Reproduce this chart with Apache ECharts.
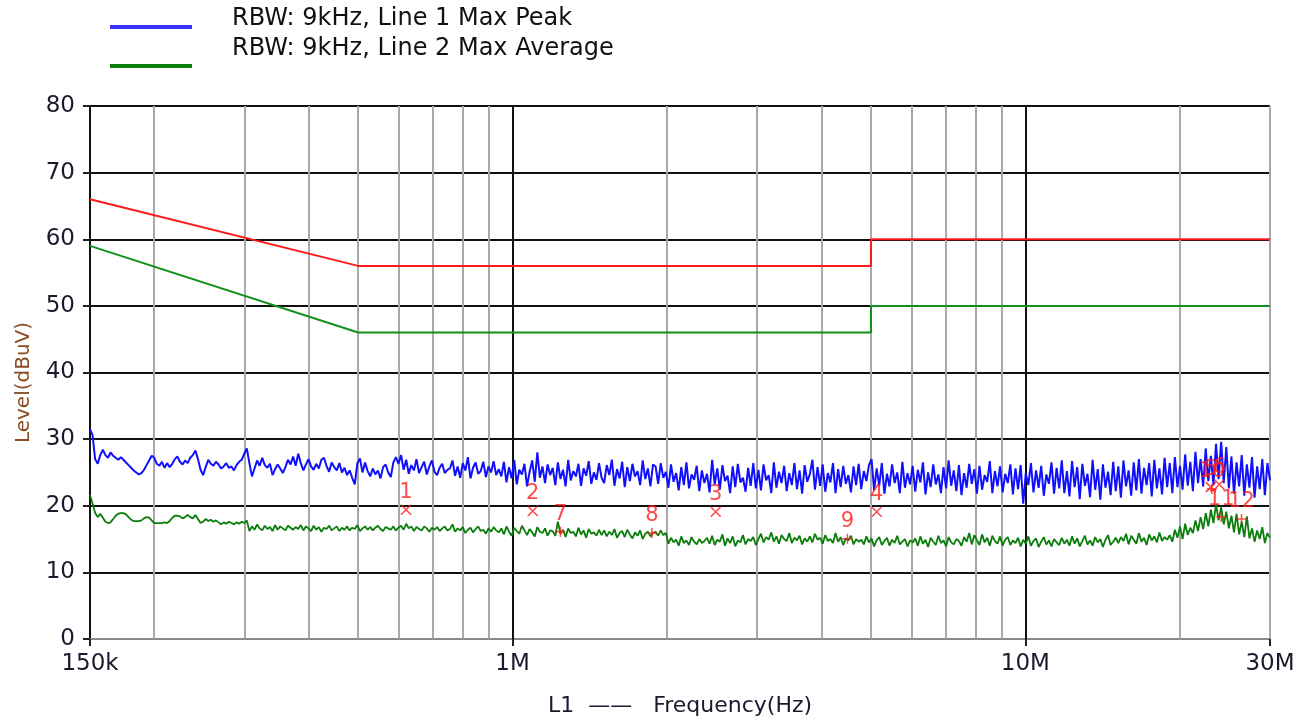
<!DOCTYPE html>
<html>
<head>
<meta charset="utf-8">
<title>L1 conducted emission</title>
<script src="https://cdn.jsdelivr.net/npm/echarts@6/dist/echarts.min.js"></script>
<style>
  html, body { margin: 0; padding: 0; background: #fff; }
  #chart { width: 1305px; height: 722px; }
</style>
</head>
<body>
<div id="chart"></div>
<script>
// sweep: 150 kHz .. 30 MHz (dBuV)
const sweepStart = 150000;
const sweepStop = 30000000;

const peakTrace = [
  31.5,30.6,27.0,26.3,27.6,28.4,27.6,27.2,28.0,27.5,27.2,26.9,27.3,26.9,26.5,26.1,25.7,25.3,25.0,24.7,
  24.9,25.4,26.1,26.8,27.5,27.2,26.3,26.0,26.6,25.7,26.4,25.8,26.3,27.0,27.4,26.6,26.2,26.8,26.4,27.2,
  27.6,28.3,27.0,25.4,24.6,25.8,26.9,26.3,26.0,26.6,26.2,25.6,25.9,26.4,25.7,25.9,25.3,26.1,26.6,26.9,
  27.8,28.6,26.4,24.4,25.6,26.8,26.0,27.2,26.1,25.7,26.3,24.6,25.5,26.2,25.6,24.9,25.8,26.9,26.2,27.4,
  26.0,27.8,26.4,25.3,26.2,27.0,25.9,25.4,26.3,25.6,26.9,27.2,26.0,25.1,26.5,25.8,25.3,26.4,25.0,25.7,
  24.6,25.3,24.2,23.2,26.4,27.1,25.0,26.5,25.2,24.4,25.6,24.7,25.3,24.1,25.8,26.2,25.0,24.3,26.5,27.3,
  26.3,27.6,25.4,26.9,24.8,26.1,25.3,27.0,24.9,25.8,26.6,24.7,25.9,26.8,25.1,24.6,25.7,26.3,24.9,25.4,
  25.6,26.8,24.5,25.9,24.2,26.4,25.3,27.3,24.1,25.7,26.5,24.8,25.2,26.6,24.3,25.9,25.0,26.7,24.6,25.5,
  24.4,26.6,23.5,25.8,24.1,26.9,23.2,25.4,24.7,26.3,22.9,25.1,26.8,23.6,28.0,24.2,25.9,23.4,26.2,24.6,
  25.7,23.1,26.5,24.0,25.4,22.9,26.9,23.8,25.2,24.4,26.3,23.0,25.6,24.5,26.7,23.3,25.0,23.9,26.4,24.2,
  23.4,26.1,24.6,26.9,23.0,25.5,24.1,26.6,22.8,25.8,23.7,26.3,24.4,25.2,23.1,26.8,24.0,25.6,22.9,26.2,
  25.9,23.3,26.4,24.2,25.1,22.7,26.2,23.6,24.9,22.3,25.8,23.1,26.5,22.6,24.7,23.9,26.0,22.2,25.3,23.4,
  24.8,22.0,26.9,23.2,25.6,22.4,26.1,23.7,24.5,21.9,25.9,22.8,26.3,23.5,24.2,22.1,25.7,23.0,26.4,22.6,
  25.4,22.3,26.2,23.8,24.6,21.9,26.5,22.7,25.1,23.4,26.0,22.2,24.9,23.1,26.4,22.5,25.3,21.8,26.1,23.6,
  24.7,26.9,22.4,25.8,23.0,26.2,22.1,24.9,23.5,26.4,21.9,25.5,22.8,26.0,23.3,24.6,22.0,25.9,23.1,26.3,
  22.5,25.2,23.7,26.1,27.0,22.3,25.6,23.0,26.4,21.8,24.8,22.9,26.2,23.4,25.0,21.9,26.6,22.7,24.9,23.2,
  26.0,22.1,25.4,23.5,26.5,21.7,25.0,22.8,26.2,23.2,24.7,21.9,25.8,22.6,26.8,23.0,25.3,22.2,26.1,21.6,
  24.9,22.7,26.3,23.3,25.5,21.8,26.0,22.4,24.6,23.6,26.7,21.9,25.2,22.9,25.9,22.0,24.8,23.4,26.2,21.7,
  25.6,22.5,26.1,20.3,24.9,23.1,26.4,22.0,25.3,22.7,26.0,21.5,24.7,23.3,26.5,21.8,25.7,22.6,26.8,21.9,
  25.2,21.4,26.7,22.8,25.8,21.0,26.3,23.0,24.8,21.3,26.9,22.4,25.5,20.9,26.2,22.7,25.1,21.6,26.6,22.2,
  25.9,21.2,26.8,22.9,25.3,21.5,26.5,22.3,27.0,21.8,25.7,23.1,26.4,21.4,26.9,22.6,25.6,21.7,27.2,22.8,
  26.4,21.9,27.3,22.8,26.0,22.4,27.7,23.0,26.6,22.2,28.1,23.4,27.0,22.9,28.6,23.7,27.5,23.1,29.3,24.0,
  29.6,23.4,28.8,22.6,27.4,21.8,26.5,22.9,27.6,21.5,26.2,22.7,27.3,21.2,25.9,22.5,27.0,21.6,26.4,23.8
];

const avgTrace = [
  21.6,20.3,18.9,18.3,18.8,18.2,17.6,17.4,17.5,18.0,18.5,18.8,18.9,18.9,18.7,18.3,17.9,17.7,17.7,17.7,
  17.8,18.1,18.3,18.2,17.8,17.4,17.4,17.4,17.4,17.5,17.4,17.7,18.2,18.5,18.5,18.4,18.1,18.3,18.6,18.3,
  18.1,18.6,18.0,17.4,17.6,18.0,17.7,17.9,17.6,17.8,17.5,17.2,17.5,17.3,17.6,17.4,17.2,17.5,17.3,17.6,
  17.4,17.8,16.2,16.9,16.4,17.2,16.6,16.3,17.0,16.5,16.8,16.2,17.1,16.4,16.9,16.6,16.3,17.0,16.7,16.4,
  16.8,16.5,17.1,16.3,16.9,16.6,16.2,17.0,16.4,16.8,16.1,16.7,16.5,17.0,16.3,16.6,16.9,16.2,16.7,16.4,
  16.9,16.3,16.7,16.5,17.1,16.2,16.6,16.9,16.4,16.8,16.3,16.7,17.0,16.5,16.2,16.8,16.6,16.4,16.9,16.3,
  16.7,17.0,16.4,17.3,16.6,16.9,16.2,16.8,16.5,16.3,16.9,16.6,16.1,16.7,16.4,16.8,16.2,16.6,16.9,16.3,
  16.5,17.2,16.1,16.6,16.3,16.8,15.9,16.4,16.7,16.0,16.5,16.9,16.2,16.4,15.8,16.6,16.1,16.8,16.3,16.0,
  16.6,15.7,16.9,16.1,15.5,16.7,16.2,15.8,17.0,16.3,15.6,16.5,16.0,15.4,16.8,16.1,15.9,16.6,15.5,16.3,
  16.2,15.5,17.6,15.8,16.4,15.3,16.6,15.9,16.1,15.4,16.7,15.7,16.3,15.2,16.5,15.8,16.0,15.5,16.4,15.6,
  16.3,15.4,16.1,15.6,16.5,15.2,15.9,16.2,15.3,16.4,15.7,15.1,16.0,15.5,16.3,15.0,15.8,16.1,15.4,15.9,
  16.1,15.5,16.3,15.6,15.9,14.3,15.2,14.5,14.9,14.0,15.4,14.4,14.8,14.1,15.3,14.6,14.2,15.0,14.4,14.7,
  15.2,14.3,15.5,14.1,14.9,14.6,15.7,14.0,15.1,14.4,15.4,13.9,14.8,14.5,15.6,14.2,15.0,14.7,15.3,14.1,
  15.0,15.8,14.5,15.3,14.9,16.0,14.6,15.4,14.3,15.6,15.0,14.7,15.9,14.4,15.2,14.8,15.5,14.2,15.1,14.6,
  15.4,14.5,15.8,14.9,15.2,14.3,15.6,14.7,15.0,14.4,15.9,14.6,15.3,14.1,15.1,14.8,15.5,14.2,15.0,14.6,
  14.9,14.2,15.4,14.5,15.1,13.9,14.8,15.3,14.1,14.7,15.2,14.0,14.9,14.4,15.5,14.2,14.6,15.0,13.9,14.8,
  14.5,15.1,14.0,15.4,14.3,14.9,13.8,15.2,14.6,14.1,15.5,14.4,14.8,13.9,15.3,14.5,14.2,15.0,14.7,14.0,
  15.3,14.6,15.9,14.2,15.6,14.8,14.1,15.7,14.5,15.2,14.0,15.5,14.7,14.3,15.4,14.0,14.9,15.3,14.1,14.8,
  14.4,15.2,13.9,14.9,14.3,15.4,14.0,14.7,15.1,13.8,14.6,15.3,14.2,14.8,13.9,15.0,14.5,14.1,15.2,14.3,
  14.9,14.0,15.4,14.3,15.1,13.9,14.7,15.5,14.2,14.8,14.0,15.3,14.5,15.0,13.8,14.9,15.6,14.1,14.6,15.2,
  14.4,15.3,14.7,15.8,14.2,15.5,14.9,14.3,15.9,14.6,15.2,14.1,15.7,14.8,15.4,14.5,16.0,14.7,15.3,14.9,
  15.6,14.6,16.4,15.2,16.9,15.0,17.3,15.6,16.7,15.9,17.8,16.2,18.3,16.5,18.9,16.9,19.4,17.4,20.2,17.8,
  19.8,17.2,19.1,16.6,18.5,16.0,18.8,15.7,17.6,15.3,18.4,15.1,16.6,14.6,16.3,15.0,16.8,14.4,15.9,15.2
];

// limit lines [Hz, dBuV]
const peakLimit = [[150000, 66], [500000, 56], [5000000, 56], [5000000, 60], [30000000, 60]];
const avgLimit = [[150000, 59], [500000, 46], [5000000, 46], [5000000, 50], [30000000, 50]];

// final measurement markers [Hz, dBuV, no.]
const peakMarks = [
  [620000, 19.4, '1'], [1095000, 19.2, '2'], [2490000, 19.1, '3'],
  [5130000, 19.1, '4'], [23000000, 22.8, '5'], [23900000, 23.2, '6']
];
const avgMarks = [
  [1240000, 16.1, '7'], [1870000, 15.9, '8'], [4500000, 15.05, '9'],
  [23100000, 22.5, '10'], [24100000, 18.3, '11'], [26400000, 18.0, '12']
];

const xLabelValues = [150000, 1000000, 10000000, 30000000];
const xLabelText = { 150000: '150k', 1000000: '1M', 10000000: '10M', 30000000: '30M' };
const majorX = [1000000, 10000000];
const minorX = [200000, 300000, 400000, 500000, 600000, 700000, 800000, 900000,
  2000000, 3000000, 4000000, 5000000, 6000000, 7000000, 8000000, 9000000, 20000000, 30000000];

const FONT = '"DejaVu Sans", Verdana, sans-serif';

function withFreq(values) {
  const n = values.length;
  const out = [];
  for (let i = 0; i < n; i++) {
    out.push([sweepStart * Math.pow(sweepStop / sweepStart, i / (n - 1)), values[i]]);
  }
  return out;
}

function marks(name, list, path) {
  return {
    name: name,
    type: 'scatter',
    z: 10,
    data: list,
    symbol: path,
    symbolSize: 10,
    itemStyle: { color: 'transparent', borderColor: '#ff1a1a', borderWidth: 1.5 },
    label: {
      show: true,
      position: 'top',
      distance: 1,
      color: '#ff1a1a',
      fontFamily: FONT,
      fontSize: 21,
      formatter: function (p) { return p.data[2]; }
    }
  };
}

const myChart = echarts.init(document.getElementById('chart'), null, { renderer: 'canvas' });

const option = {
  animation: false,
  backgroundColor: '#fff',
  grid: { left: 90, right: 35, top: 106, bottom: 79 },
  graphic: [
    { type: 'line', shape: { x1: 110, y1: 27, x2: 192, y2: 27 }, style: { stroke: '#3535ff', lineWidth: 4 } },
    { type: 'line', shape: { x1: 110, y1: 66, x2: 192, y2: 66 }, style: { stroke: '#0a800a', lineWidth: 4 } },
    { type: 'text', x: 232, y: 19, style: { text: 'RBW: 9kHz, Line 1 Max Peak', fill: '#111', fontSize: 24, fontFamily: FONT, verticalAlign: 'middle' } },
    { type: 'text', x: 232, y: 49, style: { text: 'RBW: 9kHz, Line 2 Max Average', fill: '#111', fontSize: 24, fontFamily: FONT, verticalAlign: 'middle' } }
  ],
  xAxis: {
    type: 'log',
    logBase: 10,
    min: 150000,
    max: 30000000,
    name: 'L1\u00a0 —— \u00a0\u00a0Frequency(Hz)',
    nameLocation: 'middle',
    nameGap: 56,
    nameTextStyle: { color: '#1a1a2e', fontSize: 22, fontFamily: FONT },
    axisLine: { show: true, lineStyle: { color: '#8a8a8a', width: 2 } },
    axisTick: { show: true, customValues: xLabelValues, length: 7, lineStyle: { color: '#222', width: 2 } },
    axisLabel: {
      customValues: xLabelValues,
      margin: 14,
      color: '#1a1a2e',
      fontSize: 23,
      fontFamily: FONT,
      formatter: function (v) { return xLabelText[v] || ''; }
    },
    splitLine: { show: false },
    minorTick: { show: false }
  },
  yAxis: {
    type: 'value',
    min: 0,
    max: 80,
    interval: 10,
    name: 'Level(dBuV)',
    nameLocation: 'middle',
    nameGap: 56,
    nameTextStyle: { color: '#8a4a22', fontSize: 20, fontFamily: FONT, padding: [0, 20, 0, 0] },
    axisLine: { show: true, lineStyle: { color: '#111', width: 2 } },
    axisTick: { show: true, length: 7, lineStyle: { color: '#222', width: 2 } },
    axisLabel: { margin: 15, color: '#1a1a2e', fontSize: 23, fontFamily: FONT },
    splitLine: { show: true, lineStyle: { color: '#111', width: 2 } }
  },
  series: [
    {
      // vertical grid, gray for minor decades, black for 1M / 10M
      name: 'grid',
      type: 'line',
      z: 1,
      data: [],
      silent: true,
      markLine: {
        silent: true,
        z: 1,
        symbol: 'none',
        label: { show: false },
        animation: false,
        data: minorX.map(function (v) {
          return { xAxis: v, lineStyle: { color: '#a9a9a9', width: 2, type: 'solid' } };
        }).concat(majorX.map(function (v) {
          return { xAxis: v, lineStyle: { color: '#111', width: 2, type: 'solid' } };
        }))
      }
    },
    {
      name: 'Line 1 Max Peak',
      type: 'line',
      z: 3,
      data: withFreq(peakTrace),
      showSymbol: false,
      sampling: false,
      lineStyle: { color: '#1010ff', width: 2 }
    },
    {
      name: 'Line 2 Max Average',
      type: 'line',
      z: 3,
      data: withFreq(avgTrace),
      showSymbol: false,
      lineStyle: { color: '#0a7d0a', width: 1.8 }
    },
    {
      name: 'QP limit',
      type: 'line',
      z: 4,
      data: peakLimit,
      showSymbol: false,
      lineStyle: { color: '#ff1a1a', width: 2 }
    },
    {
      name: 'AV limit',
      type: 'line',
      z: 4,
      data: avgLimit,
      showSymbol: false,
      lineStyle: { color: '#13901a', width: 2 }
    },
    marks('QP', peakMarks, 'path://M0,0L10,10M10,0L0,10'),
    marks('AV', avgMarks, 'path://M5,0L5,10M0,5L10,5')
  ]
};

myChart.setOption(option);
window.onresize = myChart.resize;
</script>
</body>
</html>
